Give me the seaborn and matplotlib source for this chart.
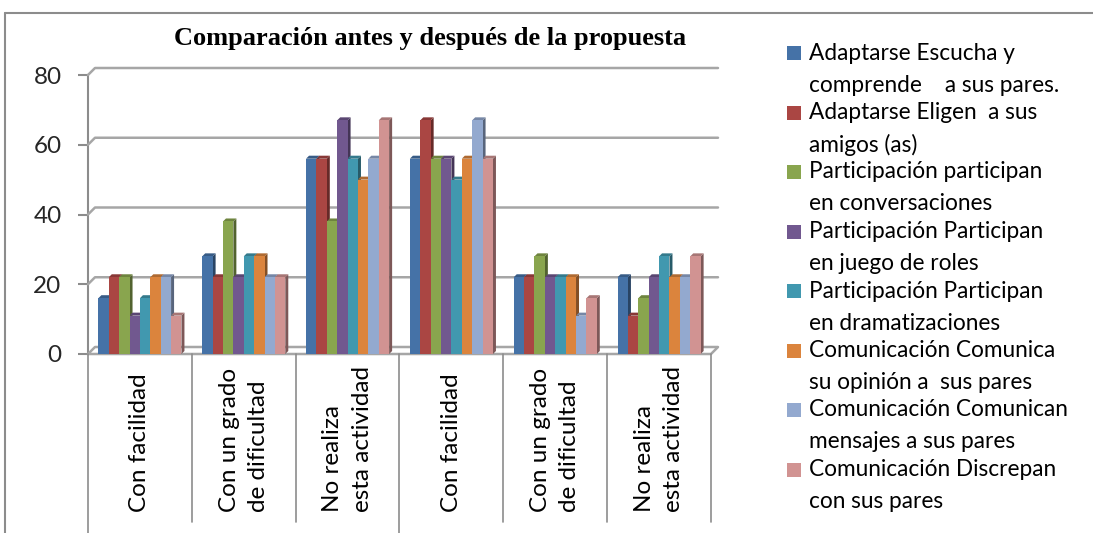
import numpy as np
import pandas as pd
import matplotlib
matplotlib.use("Agg")
import matplotlib.pyplot as plt
import seaborn as sns
from matplotlib.patches import Polygon, Rectangle
from matplotlib.lines import Line2D
from matplotlib.transforms import IdentityTransform

# ---------------- data ----------------
categories = ["Con facilidad", "Con un grado\nde dificultad", "No realiza\nesta actividad",
              "Con facilidad", "Con un grado\nde dificultad", "No realiza\nesta actividad"]
series_names = [
    "Adaptarse Escucha y\ncomprende    a sus pares.",
    "Adaptarse Eligen  a sus\namigos (as)",
    "Participación participan\nen conversaciones",
    "Participación Participan\nen juego de roles",
    "Participación Participan\nen dramatizaciones",
    "Comunicación Comunica\nsu opinión a  sus pares",
    "Comunicación Comunican\nmensajes a sus pares",
    "Comunicación Discrepan\ncon sus pares",
]
escucha = [16, 28, 56, 56, 22, 22]
eligen = [22, 22, 56, 67, 22, 11]
conversaciones = [22, 38, 38, 56, 28, 16]
juego_roles = [11, 22, 67, 56, 22, 22]
dramatizaciones = [16, 28, 56, 50, 22, 28]
opinion = [22, 28, 50, 56, 22, 22]
mensajes = [22, 22, 56, 67, 11, 22]
discrepan = [11, 22, 67, 56, 16, 28]
series_values = [escucha, eligen, conversaciones, juego_roles,
                 dramatizaciones, opinion, mensajes, discrepan]
yticks = [0, 20, 40, 60, 80]
title = "Comparación antes y después de la propuesta"

colors = ["#4572A7", "#AA4643", "#89A54E", "#71588F",
          "#4198AF", "#DB843D", "#93A9CF", "#D19392"]

# ---------------- build long table ----------------
keys = [f"g{i}" for i in range(len(categories))]
rows = []
for name, vals in zip(series_names, series_values):
    for k, v in zip(keys, vals):
        rows.append({"grupo": k, "serie": name, "valor": v})
df = pd.DataFrame(rows)

sns.set_theme(style="white")
plt.rcParams["font.family"] = ["Lato", "DejaVu Sans"]

W, H = 1093, 533
fig = plt.figure(figsize=(W / 100, H / 100), dpi=100)
ax = fig.add_axes([88 / W, 1 - 354 / H, (711 - 88) / W, (354 - 75) / H])

sns.barplot(data=df, x="grupo", y="valor", hue="serie", order=keys,
            hue_order=series_names, palette=colors, width=0.8, gap=0,
            saturation=1, ax=ax, legend=False, linewidth=0, errorbar=None)

ax.set_ylim(0, 80)
ax.set_xlim(-0.5, len(keys) - 0.5)
ax.set_yticks(yticks)
ax.set_yticklabels([str(t) for t in yticks], fontsize=17.5)
ax.set_xticks([])
ax.set_xlabel("")
ax.set_ylabel("")
for sp in ["top", "right", "bottom"]:
    ax.spines[sp].set_visible(False)
ax.spines["left"].set_color("#8C8C8C")
ax.spines["left"].set_linewidth(1.5)
ax.tick_params(axis="y", left=True, length=7, width=1.5, color="#8C8C8C", pad=12)
ax.grid(False)

fig.canvas.draw()
# back-wall gridlines with 3D offset (pixels)
d = 7
x_left_disp = ax.transData.transform((-0.5, 0))[0]
x_right_disp = ax.transData.transform((len(keys) - 0.5, 0))[0]
for t in yticks:
    yd = ax.transData.transform((0, t))[1]
    pts = [(x_left_disp, yd), (x_left_disp + d, yd + d), (x_right_disp + d, yd + d)]
    if t == 0:
        pts = [(x_left_disp, yd), (x_left_disp + d, yd + d), (x_right_disp + d, yd + d),
               (x_right_disp, yd), (x_left_disp, yd)]
    xs, ys = zip(*pts)
    fig.add_artist(Line2D(xs, ys, transform=IdentityTransform(), color="#A6A6A6",
                          lw=1.8, zorder=0.5))

# 3D faces for bars
dd = 3
for p in list(ax.patches):
    if not isinstance(p, Rectangle) or p.get_height() <= 0:
        continue
    (x0, y0) = ax.transData.transform((p.get_x(), 0))
    (x1, y1) = ax.transData.transform((p.get_x() + p.get_width(), p.get_height()))
    fc = np.array(p.get_facecolor()[:3])
    side = Polygon([(x1, y0), (x1 + dd, y0 + dd), (x1 + dd, y1 + dd), (x1, y1)],
                   closed=True, transform=IdentityTransform(),
                   facecolor=fc * 0.6, edgecolor="none", zorder=2)
    top = Polygon([(x0, y1), (x0 + dd, y1 + dd), (x1 + dd, y1 + dd), (x1, y1)],
                  closed=True, transform=IdentityTransform(),
                  facecolor=fc * 0.8, edgecolor="none", zorder=2)
    fig.add_artist(side)
    fig.add_artist(top)
    p.set_zorder(3)
    fig.add_artist(p)

# category labels and separator lines
ybase_px = 354
for i, lab in enumerate(categories):
    xc = ax.transData.transform((i, 0))[0]
    fig.text(xc / W, 1 - 512 / H, lab, rotation=90, ha="center", va="bottom",
             multialignment="left", fontsize=17.5, color="#000000", linespacing=1.5)
for i in range(len(keys) + 1):
    xb = ax.transData.transform((i - 0.5, 0))[0]
    y_end = 533 if i in (0, 3) else 522
    fig.add_artist(Line2D([xb / W, xb / W], [1 - ybase_px / H, 1 - y_end / H],
                          transform=fig.transFigure, color="#8C8C8C", lw=1.2))

# outer frame
fig.add_artist(Line2D([5 / W, 1.0], [1 - 13 / H, 1 - 13 / H], transform=fig.transFigure,
                      color="#8C8C8C", lw=1.5))
fig.add_artist(Line2D([5 / W, 5 / W], [1 - 13 / H, 0], transform=fig.transFigure,
                      color="#8C8C8C", lw=1.5))

# title
fig.text(430 / W, 1 - 38 / H, title, ha="center", va="center", fontsize=19,
         fontweight="bold", family="Liberation Serif", color="#000000")

# legend (manual)
for i, (name, c) in enumerate(zip(series_names, colors)):
    yc = 53 + 59.5 * i
    fig.add_artist(Rectangle((787 / W, 1 - (yc + 7) / H), 14 / W, 14 / H,
                             transform=fig.transFigure, facecolor=c, edgecolor="none"))
    for j, line in enumerate(name.split("\n")):
        fig.text(809 / W, 1 - (yc + 32 * j) / H, line, ha="left", va="center",
                 fontsize=16.3, color="#000000")

fig.savefig("out.png", dpi=100, facecolor="white")
